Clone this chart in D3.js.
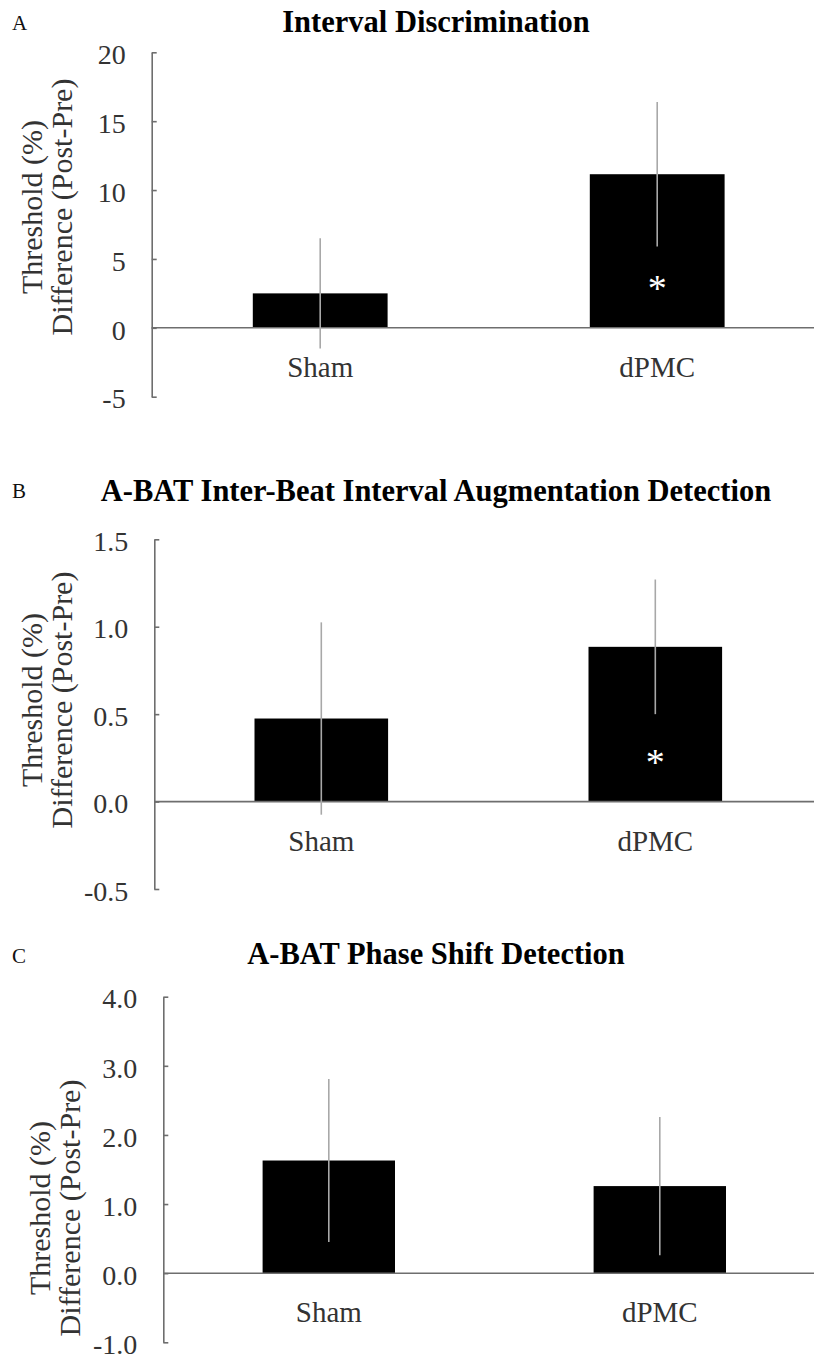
<!DOCTYPE html>
<html>
<head>
<meta charset="utf-8">
<script src="https://cdn.jsdelivr.net/npm/d3@7"></script>
<style>
  html, body { margin: 0; padding: 0; background: #fff; }
  svg { display: block; font-family: "Liberation Serif", "Times New Roman", serif; }
</style>
</head>
<body>
<svg id="fig" width="814" height="1361"></svg>
<script>
// Groups shown in each panel
const categories = ["Sham", "dPMC"];

// Panel A: interval discrimination threshold change (mean, error)
const intervalMeans = [2.5, 11.15];
const intervalErrors = [4.0, 5.25];
const intervalSignificant = [false, true];
const intervalTicks = [-5, 0, 5, 10, 15, 20];

// Panel B: A-BAT inter-beat interval augmentation detection
const ibiMeans = [0.475, 0.885];
const ibiErrors = [0.55, 0.385];
const ibiSignificant = [false, true];
const ibiTicks = [-0.5, 0.0, 0.5, 1.0, 1.5];

// Panel C: A-BAT phase shift detection
const phaseMeans = [1.63, 1.26];
const phaseErrors = [1.18, 1.0];
const phaseSignificant = [false, false];
const phaseTicks = [-1.0, 0.0, 1.0, 2.0, 3.0, 4.0];

const yTitleLines = ["Threshold (%)", "Difference (Post-Pre)"];

const panels = [
  {
    letter: "A", title: "Interval Discrimination",
    means: intervalMeans, errors: intervalErrors, sig: intervalSignificant,
    ticks: intervalTicks, fmt: d => String(d),
    layout: { axisX: 151.7, step: 337, yMin: 396.7, yMax: 52.3,
              letterY: 30, titleY: 32, labelCY: 207, labelX1: 42, labelX2: 72 }
  },
  {
    letter: "B", title: "A-BAT Inter-Beat Interval Augmentation Detection",
    means: ibiMeans, errors: ibiErrors, sig: ibiSignificant,
    ticks: ibiTicks, fmt: d => d.toFixed(1),
    layout: { axisX: 154.3, step: 334, yMin: 889, yMax: 539.3,
              letterY: 498.3, titleY: 501, labelCY: 700, labelX1: 42, labelX2: 72 }
  },
  {
    letter: "C", title: "A-BAT Phase Shift Detection",
    means: phaseMeans, errors: phaseErrors, sig: phaseSignificant,
    ticks: phaseTicks, fmt: d => d.toFixed(1),
    layout: { axisX: 163.3, step: 331, yMin: 1342.3, yMax: 996.7,
              letterY: 963.3, titleY: 964, labelCY: 1208, labelX1: 50, labelX2: 80 }
  }
];

const svg = d3.select("#fig");
const W = +svg.attr("width");

const axisColor = "#6e6e6e";
const textColor = "#333";
const errColor = "#a8a8a8";

panels.forEach(p => {
  const L = p.layout;
  const g = svg.append("g");

  const x = d3.scaleBand()
    .domain(categories)
    .range([L.axisX, L.axisX + 2 * L.step])
    .paddingInner(0.6)
    .paddingOuter(0.3);

  const y = d3.scaleLinear()
    .domain([d3.min(p.ticks), d3.max(p.ticks)])
    .range([L.yMin, L.yMax]);

  // panel letter and bold title
  g.append("text")
    .attr("x", 12).attr("y", L.letterY)
    .attr("font-size", 21).attr("fill", "#111")
    .text(p.letter);

  g.append("text")
    .attr("x", 436).attr("y", L.titleY)
    .attr("text-anchor", "middle")
    .attr("font-size", 30.5).attr("font-weight", "bold").attr("fill", "#000")
    .text(p.title);

  // bars
  const rows = categories.map((c, i) => ({ c, m: p.means[i], e: p.errors[i], s: p.sig[i] }));

  g.selectAll("rect.bar").data(rows).enter().append("rect")
    .attr("class", "bar")
    .attr("x", d => x(d.c))
    .attr("width", x.bandwidth())
    .attr("y", d => y(Math.max(0, d.m)))
    .attr("height", d => Math.abs(y(d.m) - y(0)))
    .attr("fill", "#000");

  // zero line spanning the plot
  g.append("line")
    .attr("x1", L.axisX).attr("x2", W)
    .attr("y1", y(0)).attr("y2", y(0))
    .attr("stroke", axisColor).attr("stroke-width", 1.6);

  // error bars (no caps)
  g.selectAll("line.err").data(rows).enter().append("line")
    .attr("class", "err")
    .attr("x1", d => x(d.c) + x.bandwidth() / 2)
    .attr("x2", d => x(d.c) + x.bandwidth() / 2)
    .attr("y1", d => y(d.m + d.e))
    .attr("y2", d => y(d.m - d.e))
    .attr("stroke", errColor).attr("stroke-width", 1.6);

  // significance markers inside the bars
  g.selectAll("text.star").data(rows.filter(d => d.s)).enter().append("text")
    .attr("class", "star")
    .attr("x", d => x(d.c) + x.bandwidth() / 2)
    .attr("y", d => y(0) + 0.29 * (y(d.m) - y(0)) + 18)
    .attr("text-anchor", "middle")
    .attr("font-size", 38).attr("fill", "#fff")
    .text("*");

  // y axis with inward ticks
  const yAxis = d3.axisLeft(y)
    .tickValues(p.ticks)
    .tickFormat(p.fmt)
    .tickSizeInner(-5)
    .tickSizeOuter(0)
    .tickPadding(26);

  const ya = g.append("g")
    .attr("transform", `translate(${L.axisX},0)`)
    .call(yAxis);
  ya.select(".domain").attr("stroke", axisColor).attr("stroke-width", 1.6);
  ya.selectAll(".tick line").attr("stroke", axisColor).attr("stroke-width", 1.6);
  ya.selectAll(".tick text")
    .attr("font-size", 28)
    .attr("font-family", "Liberation Serif, Times New Roman, serif")
    .attr("fill", textColor)
    .attr("dy", "0.4em");

  // category labels below the zero line
  const xAxis = d3.axisBottom(x).tickSize(0).tickPadding(28.5);
  const xa = g.append("g")
    .attr("transform", `translate(0,${y(0)})`)
    .call(xAxis);
  xa.select(".domain").remove();
  xa.selectAll(".tick text")
    .attr("font-size", 29)
    .attr("font-family", "Liberation Serif, Times New Roman, serif")
    .attr("fill", textColor);

  // two-line rotated y-axis title
  yTitleLines.forEach((t, i) => {
    g.append("text")
      .attr("transform", `translate(${i === 0 ? L.labelX1 : L.labelX2},${L.labelCY}) rotate(-90)`)
      .attr("text-anchor", "middle")
      .attr("font-size", 30)
      .attr("fill", textColor)
      .text(t);
  });
});
</script>
</body>
</html>
